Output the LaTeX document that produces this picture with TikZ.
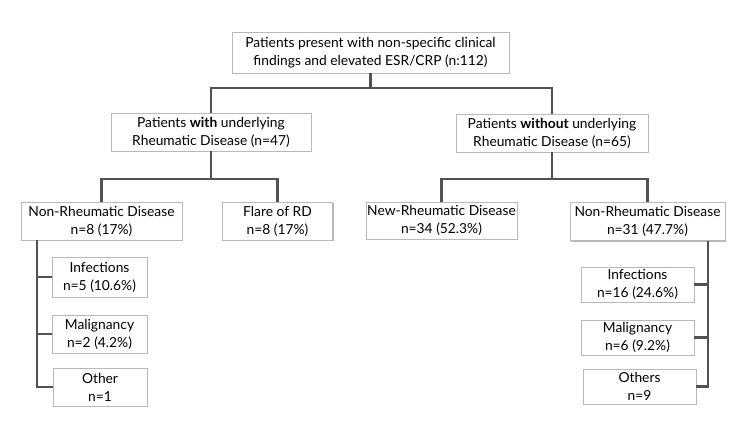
\documentclass[tikz,border=0pt]{standalone}
\usepackage{fontspec}
\setmainfont{Lato}
\usetikzlibrary{shadows}

\tikzset{
  box/.style={draw=gray!55, fill=white, align=center, inner sep=1pt,
    font=\fontsize{13.8}{18}\selectfont,
    drop shadow={shadow xshift=1.3pt, shadow yshift=-1.3pt, fill=gray!55, opacity=1}},
  conn/.style={draw=black!68, line width=2.6pt}
}

\begin{document}
\begin{tikzpicture}[x=1pt, y=-1pt]
  \useasboundingbox (0,0) rectangle (744,427);
  % buses and spines
  \coordinate (busA) at (0,88); \coordinate (busB) at (0,179);
  \coordinate (busC) at (0,179);
  \coordinate (spineA) at (37,0); \coordinate (spineB) at (708,0);

  \node[box, minimum width=277, minimum height=41] (top) at (370.5,52.5)
    {Patients present with non-specific clinical\\findings and elevated ESR/CRP (n:112)};
  \node[box, minimum width=200, minimum height=38] (withrd) at (211,132)
    {Patients \textbf{with} underlying\\Rheumatic Disease (n=47)};
  \node[box, minimum width=192, minimum height=38] (withoutrd) at (552,133)
    {Patients \textbf{without} underlying\\Rheumatic Disease (n=65)};

  \node[box, minimum width=161, minimum height=38] (nonrdA) at (101.5,221) {Non-Rheumatic Disease\\n=8 (17\%)};
  \node[box, minimum width=110, minimum height=38] (flare) at (277.5,221) {Flare of RD\\n=8 (17\%)};
  \node[box, minimum width=151, minimum height=37] (newrd) at (441.5,220.5) {New-Rheumatic Disease\\n=34 (52.3\%)};
  \node[box, minimum width=155, minimum height=38] (nonrdB) at (647.5,221.5) {Non-Rheumatic Disease\\n=31 (47.7\%)};

  \node[box, minimum width=95, minimum height=40] (infA) at (99.5,277) {Infections\\n=5 (10.6\%)};
  \node[box, minimum width=95, minimum height=38] (malA) at (99.5,334) {Malignancy\\n=2 (4.2\%)};
  \node[box, minimum width=94, minimum height=38] (othA) at (100,387) {Other\\n=1};

  \node[box, minimum width=113, minimum height=35] (infB) at (637.5,284.5) {Infections\\n=16 (24.6\%)};
  \node[box, minimum width=113, minimum height=35] (malB) at (637.5,337.5) {Malignancy\\n=6 (9.2\%)};
  \node[box, minimum width=113, minimum height=35] (othB) at (639.5,386.5) {Others\\n=9};

  % first level
  \draw[conn] (top) -- (top |- busA);
  \draw[conn] (withrd.north) |- (busA -| withoutrd.north) -- (withoutrd.north);
  % second level
  \draw[conn] (withrd) -- (withrd |- busB);
  \draw[conn] (nonrdA.north) |- (busB -| flare.north) -- (flare.north);
  \draw[conn] (withoutrd) -- (withoutrd |- busC);
  \draw[conn] (newrd.north) |- (busC -| nonrdB.north) -- (nonrdB.north);
  % left stack
  \draw[conn] (nonrdA.south -| spineA) |- (othA.west);
  \draw[conn] (spineA |- infA.west) -- (infA.west);
  \draw[conn] (spineA |- malA.west) -- (malA.west);
  % right stack
  \draw[conn] (nonrdB.south -| spineB) |- (othB.east);
  \draw[conn] (spineB |- infB.east) -- (infB.east);
  \draw[conn] (spineB |- malB.east) -- (malB.east);
\end{tikzpicture}
\end{document}
